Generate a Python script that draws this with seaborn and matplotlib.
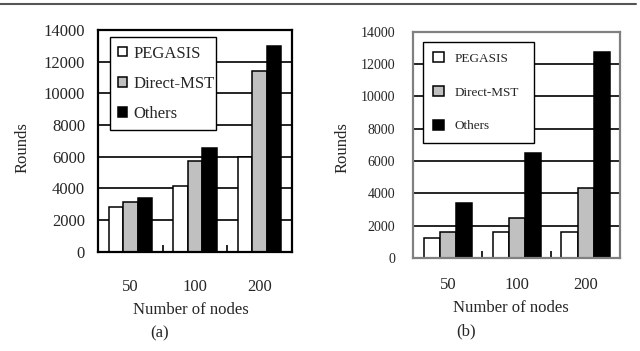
import matplotlib
matplotlib.use("Agg")
import pandas as pd
import matplotlib.pyplot as plt
import seaborn as sns
from matplotlib.lines import Line2D

# values
nodes = ["50", "100", "200"]
methods = ["PEGASIS", "Direct-MST", "Others"]

a_pegasis = [2850, 4150, 6000]
a_direct_mst = [3120, 5750, 11400]
a_others = [3400, 6570, 13000]

b_pegasis = [1250, 1600, 1600]
b_direct_mst = [1600, 2500, 4300]
b_others = [3400, 6500, 12750]

y_ticks = [0, 2000, 4000, 6000, 8000, 10000, 12000, 14000]

colors = {"PEGASIS": "white", "Direct-MST": "#c0c0c0", "Others": "black"}


def make_frame(pegasis, direct_mst, others):
    rows = []
    for m, vals in zip(methods, [pegasis, direct_mst, others]):
        for n, v in zip(nodes, vals):
            rows.append({"nodes": n, "method": m, "rounds": v})
    return pd.DataFrame(rows)


df_a = make_frame(a_pegasis, a_direct_mst, a_others)
df_b = make_frame(b_pegasis, b_direct_mst, b_others)

sns.set_style("white")
plt.rcParams["font.family"] = ["Liberation Serif", "DejaVu Serif"]

fig = plt.figure(figsize=(6.4, 3.51), dpi=100)
ax_a = fig.add_axes([0.1536, 0.2829, 0.3022, 0.6316])
ax_b = fig.add_axes([0.6458, 0.265, 0.3230, 0.6447])


def draw_panel(ax, df, width, spine_color, ytick_size, ytick_pad, xtick_pad):
    sns.barplot(data=df, x="nodes", y="rounds", hue="method", order=nodes,
                hue_order=methods, palette=colors, edgecolor="black",
                linewidth=1.1, width=width, saturation=1, errorbar=None, ax=ax)
    ax.set_xlim(-0.5, 2.5)
    ax.set_ylim(0, 14000)
    ax.set_yticks(y_ticks)
    ax.set_yticklabels([str(t) for t in y_ticks])
    ax.yaxis.grid(True, color="black", linewidth=1.2)
    ax.xaxis.grid(False)
    ax.set_axisbelow(True)
    for s in ax.spines.values():
        s.set_color(spine_color)
        s.set_linewidth(1.6)
    ax.set_xticks([0.5, 1.5], minor=True)
    ax.tick_params(axis="x", which="major", length=0, labelsize=12, pad=xtick_pad)
    ax.tick_params(axis="x", which="minor", direction="in", length=5,
                   width=1.2, color="black", bottom=True)
    ax.tick_params(axis="y", length=0, labelsize=ytick_size, pad=ytick_pad)
    ax.set_xlabel("Number of nodes", fontsize=12)
    ax.set_ylabel("Rounds", fontsize=12)


draw_panel(ax_a, df_a, 0.67, "black", 12, 9.5, 20)
draw_panel(ax_b, df_b, 0.70, "#808080", 10, 13, 14)

ax_a.yaxis.set_label_coords(-0.353, 0.472)
ax_a.xaxis.set_label_coords(0.478, -0.225)
ax_b.yaxis.set_label_coords(-0.306, 0.49)
ax_b.xaxis.set_label_coords(0.47, -0.185)

h, l = ax_a.get_legend_handles_labels()
leg_a = ax_a.legend(h, l, loc="upper left", bbox_to_anchor=(0.06, 0.967, 0.548, 0.0),
                    mode="expand", borderaxespad=0, frameon=True, fancybox=False,
                    edgecolor="black", framealpha=1, fontsize=12, handlelength=0.5,
                    handleheight=0.5, handletextpad=0.4, labelspacing=0.85,
                    borderpad=0.5)
leg_a.get_frame().set_linewidth(1.0)

h, l = ax_b.get_legend_handles_labels()
leg_b = ax_b.legend(h, l, loc="upper left", bbox_to_anchor=(0.0455, 0.956, 0.54, 0.0),
                    mode="expand", borderaxespad=0, frameon=True, fancybox=False,
                    edgecolor="black", framealpha=1, fontsize=9.5, handlelength=0.8,
                    handleheight=0.8, handletextpad=0.8, labelspacing=1.6,
                    borderpad=0.8)
leg_b.get_frame().set_linewidth(1.0)

fig.text(160 / 640, 1 - 333 / 351, "(a)", ha="center", va="center", fontsize=12)
fig.text(466 / 640, 1 - 331 / 351, "(b)", ha="center", va="center", fontsize=12)

fig.add_artist(Line2D([0, 636 / 640], [1 - 4 / 351, 1 - 4 / 351],
                      color="#555555", linewidth=1.5))

fig.savefig("out.png", dpi=100)
